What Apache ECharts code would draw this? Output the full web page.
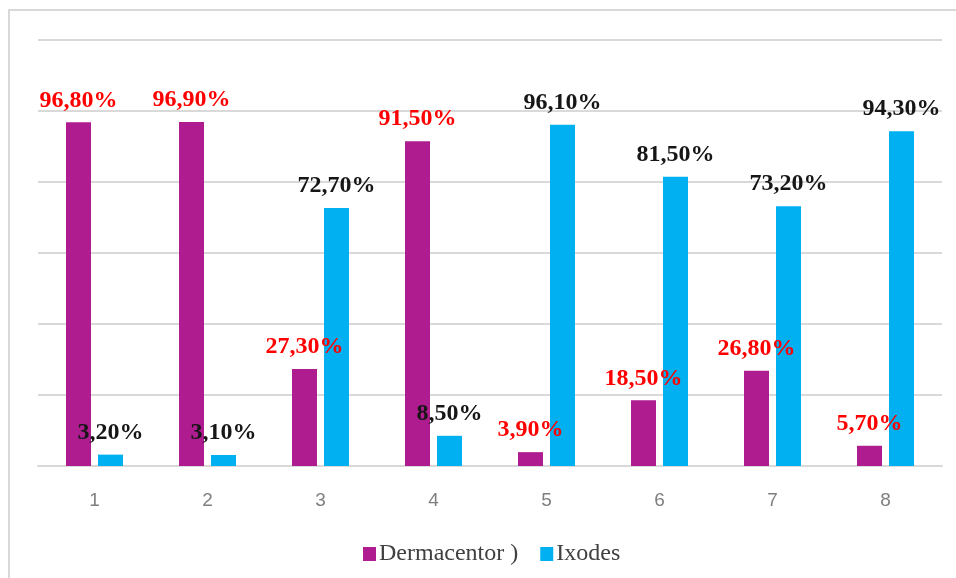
<!DOCTYPE html>
<html>
<head>
<meta charset="utf-8">
<script src="https://cdn.jsdelivr.net/npm/echarts@6/dist/echarts.min.js"></script>
<style>
  html, body { margin: 0; padding: 0; background: #fff; }
  #chart { width: 956px; height: 578px; }
</style>
</head>
<body>
<div id="chart"></div>
<script>
// Sample groups and the share of each tick genus (percent)
const categories = ['1', '2', '3', '4', '5', '6', '7', '8'];
const dermacentor = [96.8, 96.9, 27.3, 91.5, 3.9, 18.5, 26.8, 5.7];
const ixodes = [3.2, 3.1, 72.7, 8.5, 96.1, 81.5, 73.2, 94.3];
const seriesNames = ['Dermacentor )', 'Ixodes'];

const pct = v => v.toFixed(2).replace('.', ',') + '%';

const chart = echarts.init(document.getElementById('chart'), null, { renderer: 'canvas' });

const labelStyle = color => ({
  show: true,
  position: 'top',
  distance: 10,
  color: color,
  fontFamily: '"Liberation Serif", "Times New Roman", serif',
  fontWeight: 'bold',
  fontSize: 24,
  formatter: p => pct(p.value)
});

chart.setOption({
  animation: false,
  backgroundColor: '#ffffff',
  graphic: [{
    type: 'rect',
    shape: { x: 9, y: 10, width: 1000, height: 600 },
    style: { fill: 'none', stroke: '#d9d9d9', lineWidth: 2 },
    silent: true
  }],
  grid: { left: 38, right: 14, top: 40, bottom: 112 },
  legend: {
    data: seriesNames,
    left: 358,
    top: 537,
    itemWidth: 13,
    itemHeight: 14,
    itemGap: 22,
    icon: 'rect',
    textStyle: {
      fontFamily: '"Liberation Serif", "Times New Roman", serif',
      fontSize: 24,
      color: '#404040',
      padding: [0, 0, 0, -2]
    }
  },
  xAxis: {
    type: 'category',
    data: categories,
    axisLine: { lineStyle: { color: '#d9d9d9', width: 2 } },
    axisTick: { show: false },
    axisLabel: {
      color: '#7f7f7f',
      fontFamily: '"Liberation Sans", Arial, sans-serif',
      fontSize: 19,
      margin: 25
    }
  },
  yAxis: {
    type: 'value',
    min: 0,
    max: 120,
    interval: 20,
    axisLabel: { show: false },
    axisLine: { show: false },
    axisTick: { show: false },
    splitLine: { lineStyle: { color: '#d9d9d9', width: 2 } }
  },
  series: [
    {
      name: seriesNames[0],
      type: 'bar',
      data: dermacentor,
      barWidth: 25,
      barGap: '28%',
      itemStyle: { color: '#AE1C8F' },
      label: labelStyle('#ff0000')
    },
    {
      name: seriesNames[1],
      type: 'bar',
      data: ixodes,
      barWidth: 25,
      itemStyle: { color: '#00B0F0' },
      label: labelStyle('#161616')
    }
  ]
});
</script>
</body>
</html>
